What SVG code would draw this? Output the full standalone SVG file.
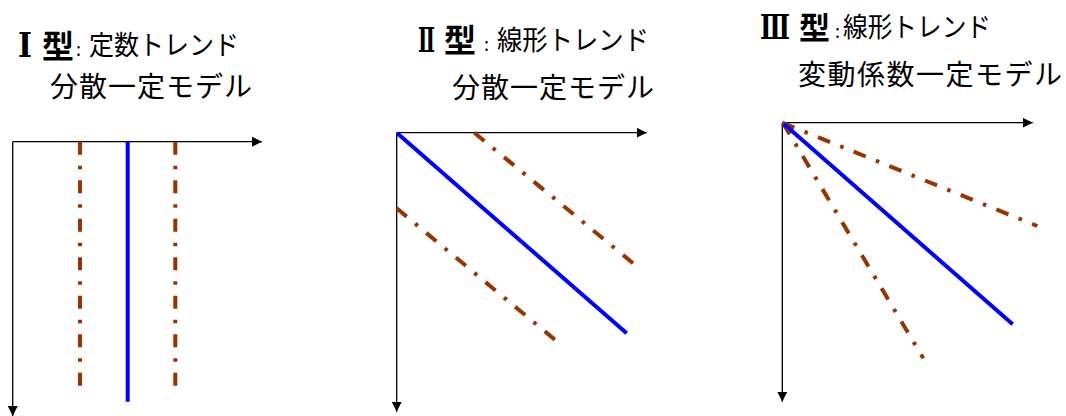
<svg xmlns="http://www.w3.org/2000/svg" width="1066" height="416" viewBox="0 0 1066 416">
<defs>
<marker id="arr" viewBox="0 0 10 10" refX="10" refY="5" markerWidth="10" markerHeight="10" markerUnits="userSpaceOnUse" orient="auto">
<path d="M0,0 L10,5 L0,10 Z" fill="#000"/>
</marker>
<style>
.ax{stroke:#000;stroke-width:1.3;fill:none;marker-end:url(#arr)}
.bl{stroke:#0000FF;stroke-width:4;fill:none}
.br{stroke:#993300;stroke-width:4;fill:none;stroke-dasharray:13 11 3.5 11}
.t{font-family:"Noto Sans CJK JP","Liberation Sans",sans-serif;fill:#000}
.rn{font-family:"Liberation Serif","DejaVu Serif","Noto Sans CJK JP",serif;font-weight:bold;fill:#000}
.kt{font-family:"Noto Sans CJK JP",sans-serif;font-weight:bold;fill:#000}
</style>
</defs>
<g id="panel1">
<text class="rn" x="18" y="57" font-size="34" textLength="14" lengthAdjust="spacingAndGlyphs">Ⅰ</text>
<text class="kt" x="42" y="58" font-size="32">型</text>
<text class="t" x="76" y="56" font-size="18">:</text>
<text class="t" x="89" y="55" font-size="27" textLength="150" lengthAdjust="spacingAndGlyphs">定数トレンド</text>
<text class="t" x="50" y="97" font-size="28" textLength="202" lengthAdjust="spacing">分散一定モデル</text>
</g>
<g id="panel2">
<text class="rn" x="418" y="52" font-size="34" textLength="17" lengthAdjust="spacingAndGlyphs">Ⅱ</text>
<text class="kt" x="444" y="52" font-size="32">型</text>
<text class="t" x="484" y="51" font-size="18">:</text>
<text class="t" x="497" y="50" font-size="27" textLength="152" lengthAdjust="spacingAndGlyphs">線形トレンド</text>
<text class="t" x="452" y="98" font-size="28" textLength="202" lengthAdjust="spacing">分散一定モデル</text>
</g>
<g id="panel3">
<text class="rn" x="760" y="39" font-size="34" textLength="30" lengthAdjust="spacingAndGlyphs">Ⅲ</text>
<text class="kt" x="799" y="39" font-size="31">型</text>
<text class="t" x="835" y="38" font-size="18">:</text>
<text class="t" x="843" y="37" font-size="27" textLength="148" lengthAdjust="spacingAndGlyphs">線形トレンド</text>
<text class="t" x="798" y="85" font-size="28" textLength="264" lengthAdjust="spacing">変動係数一定モデル</text>
</g>
<g id="connectors">
<line class="ax" x1="12.7" y1="141.7" x2="262" y2="141.7"/>
<line class="ax" x1="12.7" y1="141.7" x2="12.7" y2="416"/>
<line class="br" x1="80" y1="141.7" x2="80" y2="392"/>
<line class="br" x1="175.3" y1="141.7" x2="175.3" y2="392"/>
<line class="bl" x1="127.7" y1="141.7" x2="127.7" y2="401.7"/>

<line class="ax" x1="396.7" y1="132.7" x2="646.7" y2="132.7"/>
<line class="ax" x1="396.7" y1="132.7" x2="396.7" y2="411.7"/>
<line class="bl" x1="397" y1="133" x2="626.7" y2="333.3"/>
<line class="br" x1="474.3" y1="132.7" x2="637.3" y2="266.7"/>
<line class="br" x1="396.7" y1="208.3" x2="560" y2="344"/>

<line class="ax" x1="782.3" y1="122.7" x2="1032.7" y2="122.7"/>
<line class="ax" x1="782.3" y1="122.7" x2="782.3" y2="401.7"/>
<line class="br" x1="782.3" y1="122.7" x2="1037.3" y2="226"/>
<line class="br" x1="783" y1="123" x2="923.3" y2="358.3"/>
<line class="bl" x1="784" y1="124" x2="1012.7" y2="324.3"/>
</g>
</svg>
